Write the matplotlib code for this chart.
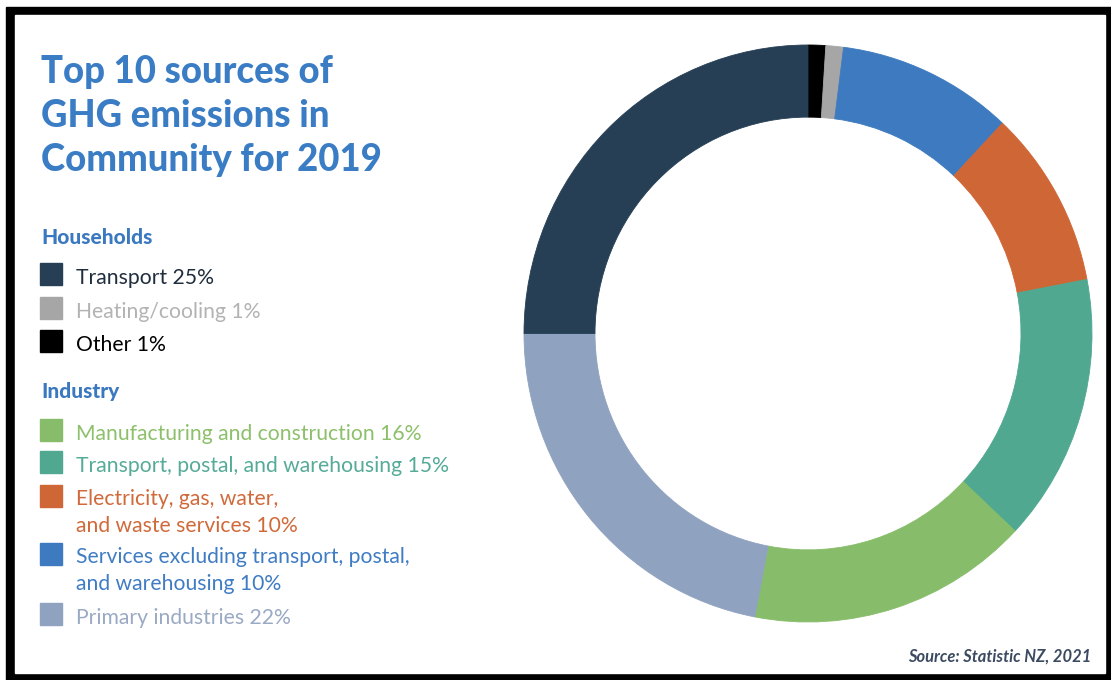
import matplotlib.pyplot as plt
from matplotlib.patches import Rectangle

# emission shares (%) by source, 2019
household_labels = ["Transport", "Heating/cooling", "Other"]
household_pct = [25, 1, 1]
industry_labels = ["Manufacturing and construction",
                   "Transport, postal, and warehousing",
                   "Electricity, gas, water,\nand waste services",
                   "Services excluding transport, postal,\nand warehousing",
                   "Primary industries"]
industry_pct = [16, 15, 10, 10, 22]

household_colors = ["#263f55", "#a6a6a6", "#000000"]
household_text = ["#1f2d3d", "#b3b3b3", "#000000"]
industry_colors = ["#87bd6a", "#4fa88f", "#cf6636", "#3d7abf", "#8fa2bf"]
industry_text = ["#8cc06a", "#55ab98", "#d06a3a", "#3f7cc4", "#9aaac4"]

# ring order, clockwise from 12 o'clock
ring_order = [("h", 2), ("h", 1), ("i", 3), ("i", 2), ("i", 1), ("i", 0), ("i", 4), ("h", 0)]

W, H = 1111, 680
fig = plt.figure(figsize=(W / 100, H / 100), dpi=100)
plt.rcParams['font.family'] = ['Lato', 'DejaVu Sans']

# full-figure axes in pixel units for frame, title and key
bg = fig.add_axes([0, 0, 1, 1])
bg.set_xlim(0, W)
bg.set_ylim(H, 0)
bg.axis('off')
bg.add_patch(Rectangle((6, 7), W - 6, H - 7, color='black', zorder=0))
bg.add_patch(Rectangle((15, 15), 1105 - 15, 673 - 15, color='white', zorder=1))

title_color = "#3b7dc4"
for i, line in enumerate(["Top 10 sources of", "GHG emissions in", "Community for 2019"]):
    bg.text(41, 83 + i * 44, line, fontsize=26.3, fontweight='black',
            color=title_color, va='baseline', ha='left', zorder=3)

bg.text(41, 244, "Households", fontsize=15, fontweight='black', color="#3a78c0",
        va='baseline', zorder=3)
bg.text(41, 398, "Industry", fontsize=15, fontweight='black', color="#3a78c0",
        va='baseline', zorder=3)

def key_row(y_top, y_base, label, fc, tc):
    bg.add_patch(Rectangle((40, y_top), 22, 22, color=fc, zorder=3))
    # y_base is the baseline of the last line of the label
    bg.text(76, y_base, label, fontsize=15.2, color=tc, va='baseline',
            linespacing=1.42, zorder=3)

for yt, yb, lab, p, fc, tc in zip([263, 297, 330], [284, 318, 351],
                                  household_labels, household_pct,
                                  household_colors, household_text):
    key_row(yt, yb, f"{lab} {p}%", fc, tc)
for yt, yb, lab, p, fc, tc in zip([419, 451, 485, 543, 603], [440, 472, 532, 590, 624],
                                  industry_labels, industry_pct,
                                  industry_colors, industry_text):
    key_row(yt, yb, f"{lab} {p}%", fc, tc)

bg.text(1091, 662, "Source: Statistic NZ, 2021", fontsize=11.9, fontweight='bold',
        fontstyle='italic', color="#3b4a60", ha='right', va='baseline', zorder=3)

# donut
cx, cy, rx, ry = 808, 333.5, 284, 288.5
ax = fig.add_axes([(cx - rx) / W, 1 - (cy + ry) / H, 2 * rx / W, 2 * ry / H])
vals, cols = [], []
for grp, k in ring_order:
    if grp == "h":
        vals.append(household_pct[k]); cols.append(household_colors[k])
    else:
        vals.append(industry_pct[k]); cols.append(industry_colors[k])
wedges, _ = ax.pie(vals, colors=cols, startangle=90, counterclock=False, radius=1,
                   wedgeprops=dict(width=0.25, linewidth=0.6))
for w, c in zip(wedges, cols):
    w.set_edgecolor(c)
ax.set_aspect('auto')
ax.set_xlim(-1, 1)
ax.set_ylim(-1, 1)
ax.axis('off')

fig.savefig("out.png", dpi=100)
